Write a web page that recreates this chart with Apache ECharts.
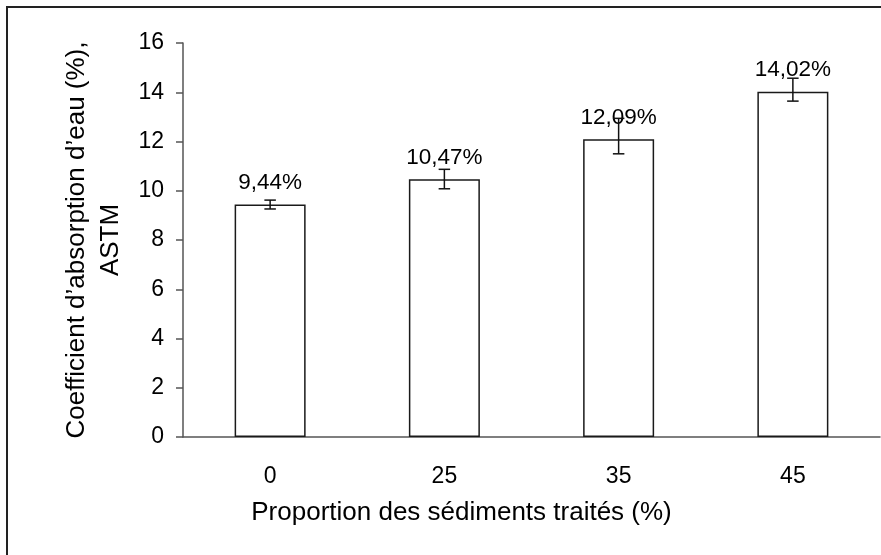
<!DOCTYPE html>
<html>
<head>
<meta charset="utf-8">
<style>
  html, body { margin: 0; padding: 0; background: #fff; }
  #chart { width: 881px; height: 555px; }
</style>
<script src="https://cdn.jsdelivr.net/npm/echarts@6/dist/echarts.min.js"></script>
</head>
<body>
<div id="chart"></div>
<script>
// Water absorption coefficient (ASTM) by proportion of treated sediments
const categories = ['0', '25', '35', '45'];
const absorption = [9.44, 10.47, 12.09, 14.02];
const errLow = [0.18, 0.39, 0.59, 0.38];
const errHigh = [0.18, 0.40, 0.85, 0.55];
const yTicks = [0, 2, 4, 6, 8, 10, 12, 14, 16];

const FONT = '"Liberation Sans", Arial, sans-serif';
const chart = echarts.init(document.getElementById('chart'));

const errorData = absorption.map((v, i) => [i, v - errLow[i], v + errHigh[i]]);

chart.setOption({
  animation: false,
  backgroundColor: '#fff',
  textStyle: { fontFamily: FONT, color: '#000' },
  graphic: [{
    type: 'rect',
    shape: { x: 7, y: 7, width: 900, height: 600 },
    style: { fill: 'none', stroke: '#222', lineWidth: 2 },
    silent: true
  }],
  grid: { left: 183, right: 1, top: 43, bottom: 118, containLabel: false },
  xAxis: {
    type: 'category',
    data: categories,
    name: 'Proportion des sédiments traités (%)',
    nameLocation: 'middle',
    nameGap: 63,
    nameTextStyle: { fontSize: 26, fontFamily: FONT, color: '#000', padding: [0, 140, 0, 0] },
    axisLine: { show: true, lineStyle: { color: '#555', width: 1.5 } },
    axisTick: { show: false },
    axisLabel: { fontSize: 23, fontFamily: FONT, color: '#000', margin: 28 },
    splitLine: { show: false }
  },
  yAxis: {
    type: 'value',
    min: yTicks[0],
    max: yTicks[yTicks.length - 1],
    interval: 2,
    name: 'Coefficient d’absorption d’eau (%),\nASTM',
    nameLocation: 'middle',
    nameGap: 54,
    nameRotate: 90,
    nameTextStyle: { fontSize: 26, fontFamily: FONT, color: '#000', lineHeight: 34, align: 'center' },
    axisLine: { show: true, lineStyle: { color: '#555', width: 1.5 } },
    axisTick: { show: true, inside: false, length: 7, lineStyle: { color: '#555', width: 1.5 } },
    axisLabel: { fontSize: 23, fontFamily: FONT, color: '#000', margin: 19 },
    splitLine: { show: false }
  },
  series: [
    {
      type: 'bar',
      data: absorption,
      barWidth: 71,
      itemStyle: { color: '#fff', borderColor: '#1a1a1a', borderWidth: 1.5 },
      label: {
        show: true,
        position: 'top',
        distance: 10,
        fontSize: 22.5,
        fontFamily: FONT,
        color: '#000',
        formatter: p => p.value.toFixed(2).replace('.', ',') + '%'
      },
      z: 2
    },
    {
      type: 'custom',
      data: errorData,
      z: 5,
      renderItem: (params, api) => {
        const x = api.value(0);
        const lo = api.coord([x, api.value(1)]);
        const hi = api.coord([x, api.value(2)]);
        const half = 5.75;
        const style = { stroke: '#111', lineWidth: 1.5 };
        return {
          type: 'group',
          children: [
            { type: 'line', shape: { x1: lo[0], y1: lo[1], x2: hi[0], y2: hi[1] }, style },
            { type: 'line', shape: { x1: lo[0] - half, y1: lo[1], x2: lo[0] + half, y2: lo[1] }, style },
            { type: 'line', shape: { x1: hi[0] - half, y1: hi[1], x2: hi[0] + half, y2: hi[1] }, style }
          ]
        };
      }
    }
  ]
});
</script>
</body>
</html>
